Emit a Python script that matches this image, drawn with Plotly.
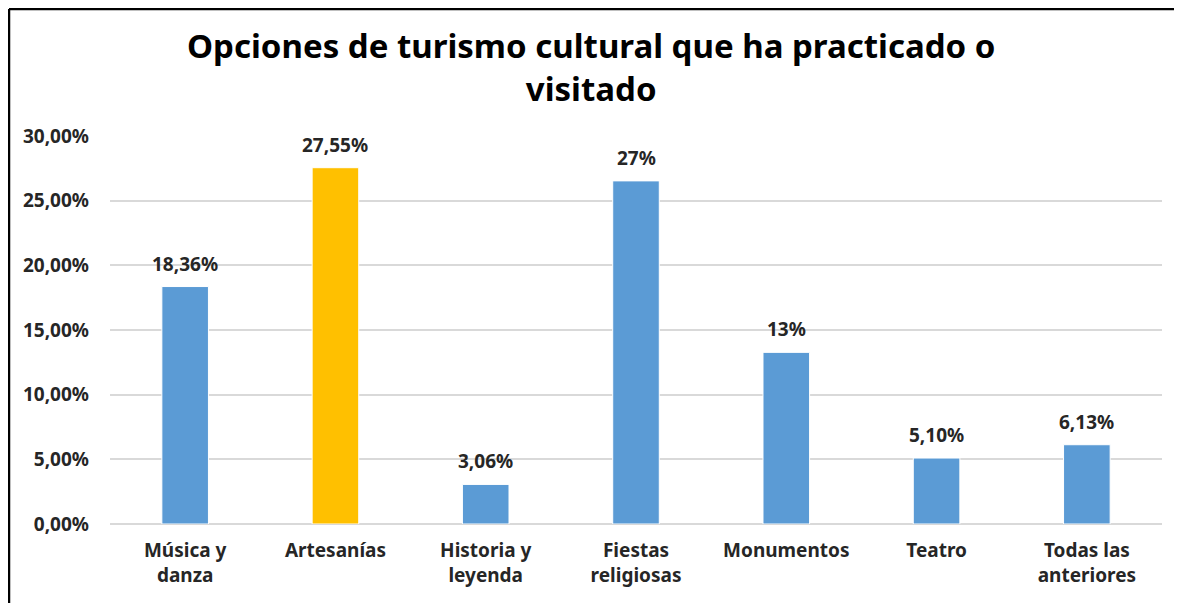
import plotly.graph_objects as go

categories = ["Música y<br>danza", "Artesanías", "Historia y<br>leyenda", "Fiestas<br>religiosas",
              "Monumentos", "Teatro", "Todas las<br>anteriores"]
values = [0.1836, 0.2755, 0.0306, 0.2653, 0.1327, 0.0510, 0.0613]
labels = ["18,36%", "27,55%", "3,06%", "27%", "13%", "5,10%", "6,13%"]
colors = ["#5B9BD5", "#FFC000", "#5B9BD5", "#5B9BD5", "#5B9BD5", "#5B9BD5", "#5B9BD5"]

# page body adds an 8px offset; figure coordinates below are screen - 8
OFF = 8
W, H = 1182 - OFF, 603 - OFF
L, R, T, B = 110 - OFF, 20, 136 - OFF, 79
pw, ph = W - L - R, H - T - B

FONT = "Noto Sans"
TXT = "#262626"

fig = go.Figure(go.Bar(
    x=categories, y=values,
    marker=dict(color=colors, line=dict(color="#FFFFFF", width=1)),
    width=0.31, cliponaxis=False, hoverinfo="x+y",
))


def px_x(sx):
    return (sx - OFF - L) / pw


def px_y(sy):
    return (H - B - (sy - OFF)) / ph


annotations = [
    dict(x=c, y=v, xref="x", yref="y", text=f"<b>{t}</b>", showarrow=False,
         yanchor="bottom", yshift=8, font=dict(family=FONT, size=19, color=TXT))
    for c, v, t in zip(categories, values, labels)
]
annotations.append(dict(
    x=px_x(591), xref="paper", y=px_y(67), yref="paper",
    text="<b>Opciones de turismo cultural que ha practicado o<br>visitado</b>",
    showarrow=False, xanchor="center", yanchor="middle",
    font=dict(family=FONT, size=33, color="#000000"),
))

fig.update_layout(
    width=W, height=H,
    margin=dict(l=L, r=R, t=T, b=B),
    paper_bgcolor="white", plot_bgcolor="white",
    separators=", ",
    showlegend=False,
    xaxis=dict(showline=False, ticks="", ticklabelstandoff=13,
               tickfont=dict(family=FONT, size=19, color=TXT, weight="bold")),
    yaxis=dict(range=[0, 0.30], dtick=0.05, tickformat=".2%", gridcolor="#D9D9D9", gridwidth=1.5,
               zeroline=True, zerolinecolor="#D9D9D9", zerolinewidth=1.5, showline=False,
               ticks="", ticklabelstandoff=20,
               tickfont=dict(family=FONT, size=19, color=TXT, weight="bold")),
    annotations=annotations,
    shapes=[
        dict(type="line", xref="paper", yref="paper", x0=px_x(9), x1=px_x(1179), y0=px_y(9), y1=px_y(9),
             line=dict(color="#000000", width=2.5)),
        dict(type="line", xref="paper", yref="paper", x0=px_x(9), x1=px_x(9), y0=px_y(9), y1=px_y(620),
             line=dict(color="#000000", width=2.5)),
        dict(type="line", xref="paper", yref="paper", x0=px_x(1179), x1=px_x(1179), y0=px_y(9), y1=px_y(620),
             line=dict(color="#7F7F7F", width=1)),
    ],
)

fig.write_html("out.html")
